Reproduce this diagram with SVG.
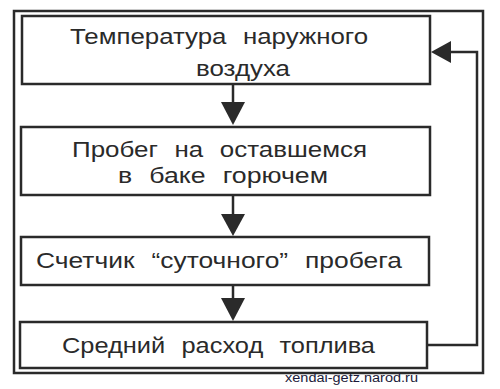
<svg xmlns="http://www.w3.org/2000/svg" width="500" height="389" viewBox="0 0 500 389">
<defs>
<style>
.box{fill:#fff;stroke:#2a2a2a;stroke-width:2.5}
.frame{fill:none;stroke:#2a2a2a;stroke-width:2.5}
.ln{fill:none;stroke:#2a2a2a;stroke-width:2.5}
.head{fill:#2a2a2a;stroke:none}
.t{font-family:"Liberation Sans",Arial,sans-serif;font-size:22px;fill:#2a2a2a;word-spacing:8px}
.wm{font-family:"Liberation Sans",Arial,sans-serif;font-size:12px;fill:#1a1a3a}
</style>
</defs>
<rect width="500" height="389" fill="#fff"/>
<rect class="frame" x="14" y="11" width="469" height="362"/>
<g id="connectors">
<line class="ln" x1="233" y1="84" x2="233" y2="104"/>
<polygon class="head" points="221,102 245,102 233,125"/>
<line class="ln" x1="233" y1="195" x2="233" y2="216"/>
<polygon class="head" points="221,214 245,214 233,236"/>
<line class="ln" x1="233" y1="285" x2="233" y2="300"/>
<polygon class="head" points="221,298 245,298 233,321"/>
<polyline class="ln" points="427,345 477,345 477,52 448,52"/>
<polygon class="head" points="431,52 451,41 451,63"/>
</g>
<g id="n1">
<rect class="box" x="22" y="16" width="408" height="68"/>
<text class="t" x="70" y="44" textLength="298" lengthAdjust="spacingAndGlyphs">Температура наружного</text>
<text class="t" x="196" y="76" textLength="94" lengthAdjust="spacingAndGlyphs">воздуха</text>
</g>
<g id="n2">
<rect class="box" x="21" y="127" width="409" height="68"/>
<text class="t" x="72" y="157" textLength="295" lengthAdjust="spacingAndGlyphs">Пробег на оставшемся</text>
<text class="t" x="118" y="183" textLength="210" lengthAdjust="spacingAndGlyphs">в баке горючем</text>
</g>
<g id="n3">
<rect class="box" x="21" y="237" width="408" height="48"/>
<text class="t" x="36" y="268" textLength="366" lengthAdjust="spacingAndGlyphs">Счетчик “суточного” пробега</text>
</g>
<g id="n4">
<rect class="box" x="20" y="322" width="407" height="46"/>
<text class="t" x="62" y="353" textLength="313" lengthAdjust="spacingAndGlyphs">Средний расход топлива</text>
</g>
<text class="wm" x="285" y="382" textLength="133" lengthAdjust="spacingAndGlyphs">xendai-getz.narod.ru</text>
</svg>
